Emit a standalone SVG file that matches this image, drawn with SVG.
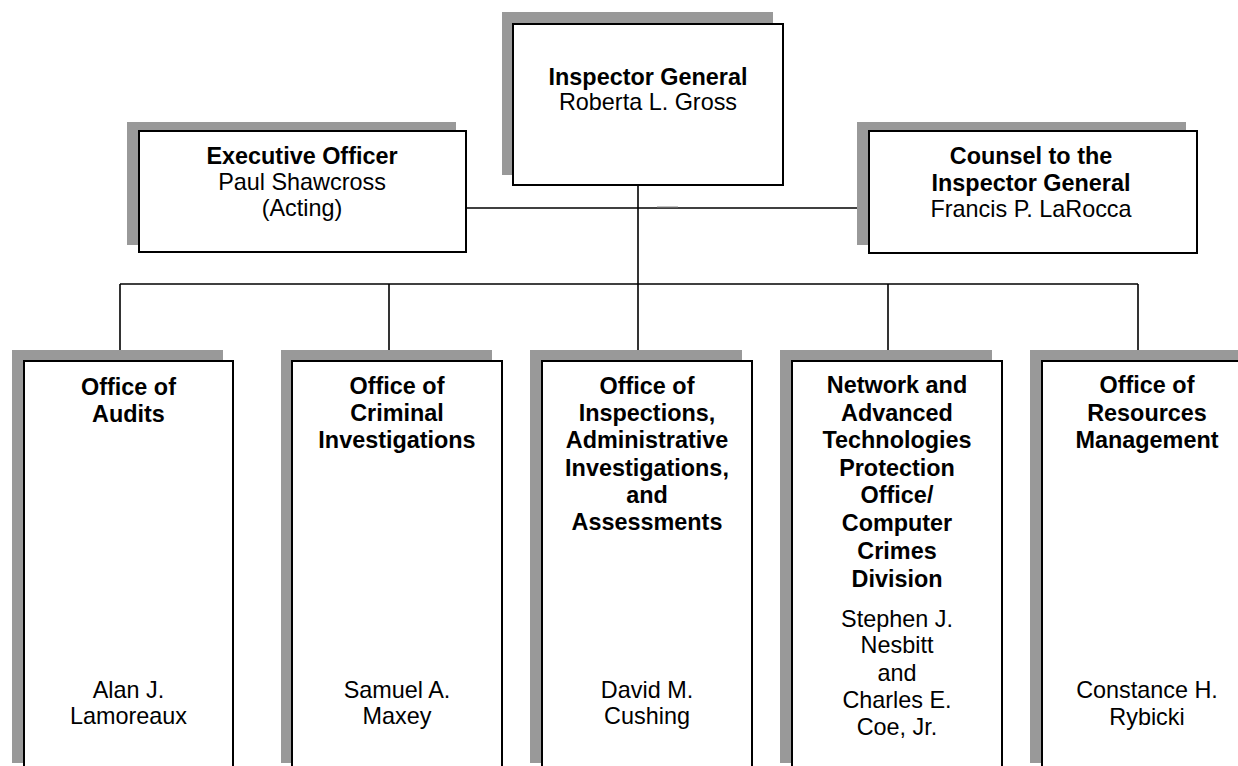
<svg xmlns="http://www.w3.org/2000/svg" width="1238" height="766" viewBox="0 0 1238 766">
<style>
.sh{fill:#999999;stroke:none}
.bx{fill:#ffffff;stroke:#000000;stroke-width:2}
.ln{stroke:#000000;stroke-width:1.6;fill:none}
text{font-family:"Liberation Sans",Arial,sans-serif;font-size:23.4px;text-anchor:middle;fill:#000000}
.b{font-weight:bold}
</style>
<rect width="1238" height="766" fill="#ffffff"/>
<g id="connectors">
<line class="ln" x1="638" y1="185" x2="638" y2="284"/>
<line class="ln" x1="466" y1="208" x2="869" y2="208"/>
<line x1="657" y1="206.8" x2="678" y2="206.8" stroke="#aaaaaa" stroke-width="1"/>
<line class="ln" x1="120" y1="284" x2="1138" y2="284"/>
<line class="ln" x1="120" y1="284" x2="120" y2="350"/>
<line class="ln" x1="389" y1="284" x2="389" y2="350"/>
<line class="ln" x1="638" y1="284" x2="638" y2="350"/>
<line class="ln" x1="888" y1="284" x2="888" y2="350"/>
<line class="ln" x1="1138" y1="284" x2="1138" y2="350"/>
</g>
<g id="inspector-general">
<rect class="sh" x="502" y="12" width="271" height="163"/>
<rect class="bx" x="513" y="24" width="270" height="161"/>
<text class="b" x="648" y="85">Inspector General</text>
<text x="648" y="110">Roberta L. Gross</text>
</g>
<g id="executive-officer">
<rect class="sh" x="127" y="122" width="329" height="123"/>
<rect class="bx" x="139" y="131" width="327" height="121"/>
<text class="b" x="302" y="164">Executive Officer</text>
<text x="302" y="190">Paul Shawcross</text>
<text x="302" y="216">(Acting)</text>
</g>
<g id="counsel">
<rect class="sh" x="857" y="122" width="329" height="123"/>
<rect class="bx" x="869" y="131" width="328" height="122"/>
<text class="b" x="1031" y="164">Counsel to the</text>
<text class="b" x="1031" y="191">Inspector General</text>
<text x="1031" y="217">Francis P. LaRocca</text>
</g>
<g id="audits">
<rect class="sh" x="12" y="350" width="211" height="413"/>
<rect class="bx" x="24" y="361" width="209" height="420"/>
<text class="b" x="128.5" y="395">Office of</text>
<text class="b" x="128.5" y="422">Audits</text>
<text x="128.5" y="698">Alan J.</text>
<text x="128.5" y="724">Lamoreaux</text>
</g>
<g id="criminal-investigations">
<rect class="sh" x="281" y="350" width="211" height="413"/>
<rect class="bx" x="292" y="361" width="210" height="420"/>
<text class="b" x="397" y="394">Office of</text>
<text class="b" x="397" y="421">Criminal</text>
<text class="b" x="397" y="448">Investigations</text>
<text x="397" y="698">Samuel A.</text>
<text x="397" y="724">Maxey</text>
</g>
<g id="inspections">
<rect class="sh" x="530" y="350" width="212" height="413"/>
<rect class="bx" x="542" y="361" width="210" height="420"/>
<text class="b" x="647" y="394">Office of</text>
<text class="b" x="647" y="421">Inspections,</text>
<text class="b" x="647" y="448">Administrative</text>
<text class="b" x="647" y="476">Investigations,</text>
<text class="b" x="647" y="503">and</text>
<text class="b" x="647" y="530">Assessments</text>
<text x="647" y="698">David M.</text>
<text x="647" y="724">Cushing</text>
</g>
<g id="network-technologies">
<rect class="sh" x="780" y="350" width="212" height="413"/>
<rect class="bx" x="792" y="361" width="210" height="420"/>
<text class="b" x="897" y="393">Network and</text>
<text class="b" x="897" y="421">Advanced</text>
<text class="b" x="897" y="448">Technologies</text>
<text class="b" x="897" y="476">Protection</text>
<text class="b" x="897" y="503">Office/</text>
<text class="b" x="897" y="531">Computer</text>
<text class="b" x="897" y="559">Crimes</text>
<text class="b" x="897" y="587">Division</text>
<text x="897" y="627">Stephen J.</text>
<text x="897" y="653">Nesbitt</text>
<text x="897" y="681">and</text>
<text x="897" y="708">Charles E.</text>
<text x="897" y="735">Coe, Jr.</text>
</g>
<g id="resources-management">
<rect class="sh" x="1030" y="350" width="212" height="413"/>
<rect class="bx" x="1042" y="361" width="210" height="420"/>
<text class="b" x="1147" y="393">Office of</text>
<text class="b" x="1147" y="421">Resources</text>
<text class="b" x="1147" y="448">Management</text>
<text x="1147" y="698">Constance H.</text>
<text x="1147" y="725">Rybicki</text>
</g>
</svg>
